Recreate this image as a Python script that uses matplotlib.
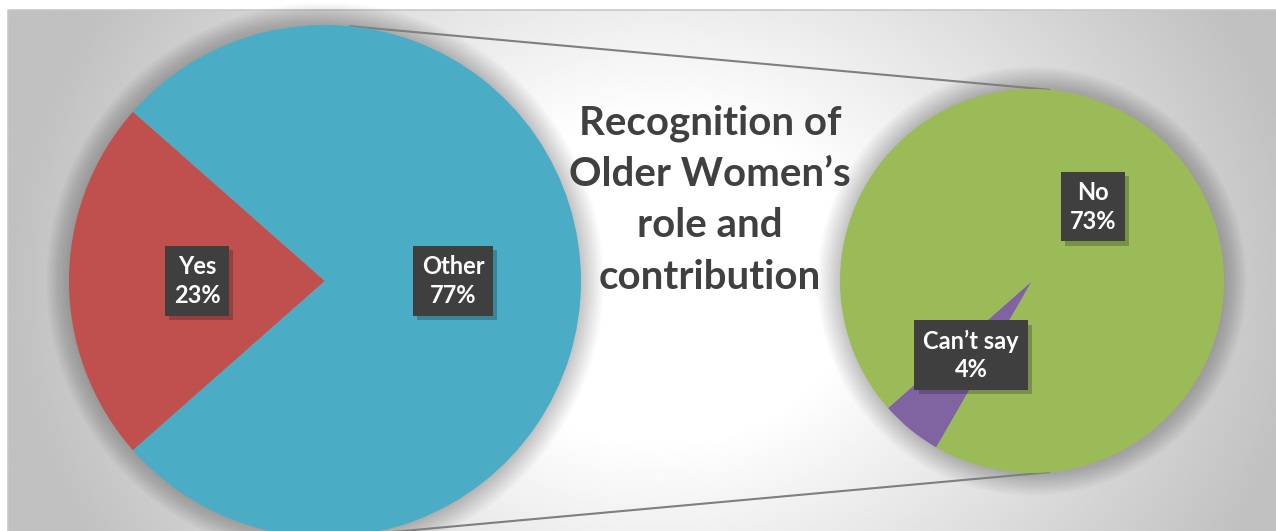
import matplotlib.pyplot as plt
import matplotlib.patheffects as pe
import numpy as np

# Recognition of Older Women's role and contribution (pie of pie)
main_labels = ['Yes', 'Other']
main_values = [23, 77]
sub_labels = ['Can\u2019t say', 'No']
sub_values = [4, 73]

title = 'Recognition of\nOlder Women\u2019s\nrole and\ncontribution'

W, H = 1276, 531
fig = plt.figure(figsize=(W / 100, H / 100), dpi=100)
ax = fig.add_axes([0, 0, 1, 1])
ax.set_xlim(0, W)
ax.set_ylim(0, H)
ax.axis('off')

# chart area background: soft gray gradient, lighter towards the middle
x0, top = 8, H - 10
xx, yy = np.meshgrid(np.linspace(x0, W, 400), np.linspace(0, top, 200))
u = (xx - 660) / 650
v = (yy - 250) / 270
r = np.sqrt(u ** 2 + (0.5 * v) ** 2)
t = np.clip((r - 0.3) / 0.7, 0, 1)
gray = (255 - 62 * t) / 255
ax.imshow(gray, cmap='gray', vmin=0, vmax=1, extent=(x0, W, 0, top),
          origin='lower', aspect='auto', interpolation='bilinear', zorder=0)
ax.plot([x0, x0, W], [0, top, top], color='#c8c8c8', lw=1.2, zorder=1)

# pie geometry
c1, r1 = (325, 250), 256
c2, r2 = (1032, 250), 192
yes_start = 180 - main_values[0] * 360 / 100 / 2
link_angle = 84.6


def soft_shadow(center, radius):
    for k in range(1, 20):
        ax.add_patch(plt.Circle(center, radius + k * 1.2, color='black',
                                alpha=0.012, lw=0, zorder=2))


soft_shadow(c1, r1)
soft_shadow(c2, r2)

# series lines between the two pies
for s in (1, -1):
    a = np.deg2rad(s * link_angle)
    ax.plot([c1[0] + r1 * np.cos(a), c2[0] + r2 * np.cos(a)],
            [c1[1] + r1 * np.sin(a), c2[1] + r2 * np.sin(a)],
            color='#7f7f7f', lw=1.5, zorder=3, solid_capstyle='butt')

w1, _ = ax.pie(main_values, colors=['#c0504d', '#4bacc6'], center=c1,
               radius=r1, startangle=yes_start, counterclock=True,
               wedgeprops=dict(linewidth=0), frame=True)
w2, _ = ax.pie(sub_values, colors=['#8064a2', '#9bbb59'], center=c2,
               radius=r2, startangle=yes_start + main_values[0] * 3.6,
               counterclock=True, wedgeprops=dict(linewidth=0), frame=True)
for w in w1 + w2:
    w.set_zorder(4)

ax.set_xlim(0, W)
ax.set_ylim(0, H)
ax.set_aspect('equal')
ax.axis('off')


def data_label(wedge, name, value):
    mid = np.deg2rad((wedge.theta1 + wedge.theta2) / 2)
    x = wedge.center[0] + 0.5 * wedge.r * np.cos(mid)
    y = wedge.center[1] + 0.5 * wedge.r * np.sin(mid)
    t = ax.text(x, y, f'{name}\n{value}%', family='Lato', weight='bold',
                fontsize=17, color='white', ha='center', va='center',
                linespacing=1.3, zorder=6,
                bbox=dict(boxstyle='square,pad=0.38', fc='#3f3f3f',
                          ec='none'))
    t.get_bbox_patch().set_path_effects(
        [pe.SimplePatchShadow(offset=(3, -3), alpha=0.25), pe.Normal()])


for w, n, v in zip(w1, main_labels, main_values):
    data_label(w, n, v)
for w, n, v in zip(w2, sub_labels, sub_values):
    data_label(w, n, v)

ax.text(710, 331, title, family='Lato', weight='bold', fontsize=29,
        color='#404040', ha='center', va='center', linespacing=1.48,
        zorder=6)

fig.savefig('out.png', dpi=100)
